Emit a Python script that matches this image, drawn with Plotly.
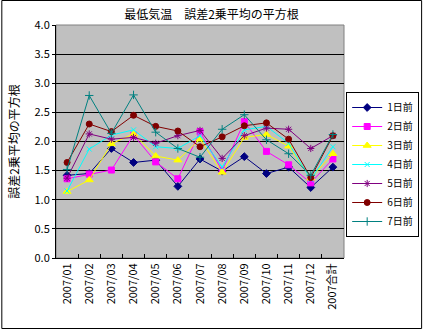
import plotly.graph_objects as go

# Monthly categories plus the annual total
categories = ["2007/01", "2007/02", "2007/03", "2007/04", "2007/05", "2007/06",
              "2007/07", "2007/08", "2007/09", "2007/10", "2007/11", "2007/12",
              "2007合計"]

# RMSE of minimum temperature forecasts by lead time (days ahead)
day1 = [1.42, 1.45, 1.88, 1.64, 1.68, 1.23, 1.70, 1.49, 1.74, 1.45, 1.56, 1.21, 1.56]
day2 = [1.36, 1.44, 1.51, 2.11, 1.65, 1.36, 2.17, 1.50, 2.34, 1.83, 1.60, 1.29, 1.70]
day3 = [1.14, 1.34, 1.96, 2.13, 1.75, 1.68, 2.04, 1.47, 2.07, 2.12, 1.92, 1.37, 1.79]
day4 = [1.15, 1.87, 2.11, 2.20, 1.91, 1.88, 2.10, 1.56, 2.20, 2.26, 1.97, 1.35, 1.91]
day5 = [1.37, 2.13, 2.04, 2.07, 1.97, 2.10, 2.19, 1.71, 2.10, 2.23, 2.21, 1.88, 2.10]
day6 = [1.64, 2.30, 2.17, 2.45, 2.26, 2.18, 1.91, 2.08, 2.27, 2.32, 2.04, 1.38, 2.10]
day7 = [1.52, 2.79, 2.14, 2.80, 2.16, 1.88, 1.73, 2.21, 2.46, 2.03, 1.79, 1.42, 2.12]

series_names = ["1日前", "2日前", "3日前", "4日前", "5日前", "6日前", "7日前"]
series_values = [day1, day2, day3, day4, day5, day6, day7]
colors = ["#000080", "#FF00FF", "#FFFF00", "#00FFFF", "#800080", "#800000", "#008080"]
symbols = ["diamond", "square", "triangle-up", "x-thin-open", "asterisk-open",
           "circle", "cross-thin-open"]
sizes = [6, 6, 7, 5, 6, 6, 6]

FONT = "Noto Sans CJK JP, sans-serif"

fig = go.Figure()
for name, vals, col, sym, sz in zip(series_names, series_values, colors, symbols, sizes):
    fig.add_trace(go.Scatter(
        x=categories, y=vals, name=name, mode="lines+markers",
        line=dict(color=col, width=1),
        marker=dict(symbol=sym, size=sz, color=col,
                    line=dict(color=col, width=1)),
    ))

W, H = 431, 329
ml, mr, mt, mb = 56, 80, 25, 71
pw, ph = W - ml - mr, H - mt - mb

fig.update_layout(
    width=W, height=H,
    margin=dict(l=ml, r=mr, t=mt, b=mb),
    paper_bgcolor="white",
    plot_bgcolor="#C0C0C0",
    font=dict(family=FONT, size=11, color="black"),
    title=dict(text="最低気温　誤差2乗平均の平方根", x=(ml + pw / 2 + 8) / W, xanchor="center",
               y=1 - 15 / H, yanchor="middle", font=dict(size=12)),
    showlegend=True,
    legend=dict(x=(428 - ml) / pw, xanchor="right", y=(H - mb - 92) / ph, yanchor="top",
                bgcolor="white", bordercolor="black", borderwidth=1,
                font=dict(size=10), tracegroupgap=0, itemwidth=30),
    xaxis=dict(type="category", tickangle=-90, ticks="inside", tickson="boundaries",
               ticklen=4, tickcolor="black", showline=True, linecolor="black",
               linewidth=1, showgrid=False, tickfont=dict(size=11),
               range=[-0.5, len(categories) - 0.5]),
    yaxis=dict(range=[0, 4.0], dtick=0.5, tickformat=".1f", ticks="outside",
               ticklen=3, tickcolor="black", showline=True, linecolor="black",
               linewidth=1, showgrid=True, gridcolor="black", gridwidth=1,
               zeroline=False, tickfont=dict(size=11),
               title=dict(text="誤差2乗平均の平方根", font=dict(size=12), standoff=12)),
    shapes=[
        # plot-area frame
        dict(type="rect", xref="paper", yref="paper", x0=0, x1=1, y0=0, y1=1,
             line=dict(color="#808080", width=1), layer="below"),
        # outer chart frame
        dict(type="rect", xref="paper", yref="paper",
             x0=(0.5 - ml) / pw, x1=(W - 0.5 - ml) / pw,
             y0=(-(mb) + 0.5) / ph, y1=(H - mb - 0.5) / ph,
             line=dict(color="black", width=1)),
    ],
)

fig.write_html("out.html")
